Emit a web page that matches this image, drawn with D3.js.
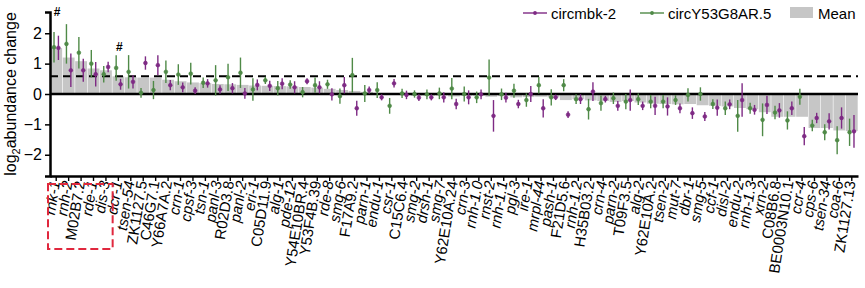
<!DOCTYPE html>
<html>
	<head>
		<meta charset="utf-8">
		<title>log2 abundance change</title>
		<style>
			body { margin: 0; background: #fff; }
			text { font-family: Arial, "Liberation Sans", sans-serif; fill: #000; }
			.bar { fill: #c6c6c6; }
			.err { stroke-width: 1.4px; }
		</style>
	</head>
	<body>
		<svg class="chart"></svg>
		<script src="https://d3js.org/d3.v7.min.js"></script>
		<script>
			// categories, sorted by mean
			var genes = ["rnk-1","rnh-2","M02B7.2","rde-1","dis-3","dcr-1","tsen-54","ZK1127.5","C46G7.1","Y66A7A.2",
				"crn-1","cpsf-3","tsn-1","panl-3","R02D3.8","panl-2","eri-1","C05D11.9","alg-1","pde-12",
				"Y54E10BR.4","Y53F4B.39","rde-8","smg-6","F17A9.2","parn-1","endu-1","csr-1","C15C6.4","smg-2",
				"drsh-1","smg-7","Y62E10A.24","crn-3","rnh-1.0","rnst-2","rnh-1.1","pgl-3","ire-1","mrpl-44",
				"pash-1","F21D5.6","rnh-1.2","H35B03.2","crn-4","parn-2","T09F3.5","alg-2","Y62E10A.2","tsen-2",
				"mut-7","dbr-1","smg-5","ccf-1","disl-2","endu-2","rnh-1.3","xrn-2","C08B6.8","BE0003N10.1",
				"ccr-4","cps-6","tsen-34","coa-6","ZK1127.13"];

			// circmbk-2
			var mbkValues = [1.52,0.78,0.78,0.65,0.89,0.32,0.40,1.02,0.95,0.29,
				0.22,0.11,0.35,0.15,0.19,0.02,0.30,0.27,0.34,0.22,
				0.42,0.22,-0.01,0.29,-0.47,0.13,-0.11,0.35,-0.03,-0.12,
				-0.11,-0.11,-0.33,-0.11,-0.01,-0.72,-0.12,-0.33,0.00,-0.47,
				-0.11,-0.68,-0.17,0.08,-0.17,-0.39,-0.20,-0.39,-0.39,-0.41,
				-0.47,-0.63,-0.74,-0.45,-0.34,-0.20,-0.52,-0.36,-0.54,-0.47,
				-1.39,-0.79,-0.90,-0.79,-1.23];
			var mbkErrors = [0.40,0.55,0.38,0.40,0.17,0.18,0.22,0.22,0.33,0.17,
				0.16,0.11,0.14,0.14,0.17,0.18,0.18,0.17,0.18,0.20,
				0.10,0.20,0.20,0.27,0.25,0.12,0.10,0.14,0.14,0.11,
				0.10,0.17,0.17,0.23,0.16,0.52,0.16,0.14,0.26,0.30,
				0.09,0.11,0.16,0.31,0.11,0.16,0.35,0.14,0.30,0.30,
				0.16,0.19,0.15,0.27,0.16,0.55,0.16,0.30,0.24,0.22,
				0.30,0.17,0.27,0.35,0.54];

			// circY53G8AR.5
			var y53Values = [1.54,1.65,1.36,1.00,0.65,0.86,0.73,0.04,0.13,0.73,
				0.64,0.67,0.37,0.45,0.55,0.70,0.15,0.45,0.19,0.31,
				0.06,0.29,0.32,-0.07,0.62,0.02,0.13,-0.39,0.02,0.00,
				-0.01,0.02,0.18,0.00,-0.11,0.54,-0.01,0.11,-0.20,0.29,
				-0.11,0.29,-0.17,-0.50,-0.30,-0.14,-0.25,-0.17,-0.25,-0.25,
				-0.20,-0.03,0.00,-0.33,-0.47,-0.72,-0.47,-0.85,-0.61,-0.87,
				-0.09,-1.04,-1.26,-1.52,-1.26];
			var y53Errors = [0.50,0.65,0.52,0.45,0.27,0.42,0.55,0.16,0.30,0.37,
				0.34,0.36,0.17,0.50,0.45,0.50,0.37,0.12,0.24,0.14,
				0.17,0.25,0.15,0.25,0.57,0.28,0.26,0.26,0.15,0.12,
				0.16,0.19,0.35,0.25,0.19,0.60,0.19,0.23,0.22,0.27,
				0.27,0.20,0.16,0.34,0.25,0.19,0.25,0.19,0.22,0.22,
				0.16,0.22,0.22,0.16,0.22,0.52,0.18,0.54,0.22,0.30,
				0.26,0.19,0.26,0.46,0.45];

			// Mean bars
			var meanValues = [1.51,1.20,1.08,0.84,0.78,0.58,0.55,0.54,0.54,0.47,
				0.42,0.38,0.36,0.33,0.32,0.30,0.28,0.27,0.26,0.25,
				0.23,0.21,0.17,0.13,0.10,0.07,0.02,-0.02,-0.01,-0.06,
				-0.06,-0.05,-0.08,-0.06,-0.06,-0.09,-0.07,-0.11,-0.10,-0.09,
				-0.11,-0.20,-0.17,-0.21,-0.23,-0.26,-0.23,-0.28,-0.32,-0.33,
				-0.34,-0.33,-0.37,-0.39,-0.41,-0.46,-0.50,-0.60,-0.75,-0.75,
				-0.75,-1.12,-1.12,-1.20,-1.22];

			var yTicks = [-2, -1, 0, 1, 2];
			var threshold = 0.585;               // log2(1.5)
			var hashGenes = ["rnk-1", "dcr-1"];
			var hashLevels = [2.69, 1.54];
			var boxedGenes = ["rnk-1", "dis-3"];  // first and last inside the red box

			var seriesNames = ["circmbk-2", "circY53G8AR.5", "Mean"];
			var colors = {mbk: "#7e2a84", y53: "#4f8a47"};

			var width = 865, height = 288;
			var svg = d3.select(".chart")
				.attr("width", width)
				.attr("height", height);

			var x = d3.scaleBand()
				.domain(genes)
				.range([50, 858])
				.padding(0);
			var y = d3.scaleLinear()
				.domain([-2.7, 2.7])
				.range([176, 12]);

			var bw = x.bandwidth();

			// Mean bars
			svg.append("g")
				.selectAll("rect")
				.data(genes)
				.enter()
				.append("rect")
					.attr("class", "bar")
					.attr("x", function(d) {return x(d) + 0.3;})
					.attr("width", bw - 0.6)
					.attr("y", function(d, i) {return Math.min(y(meanValues[i]), y(0));})
					.attr("height", function(d, i) {return Math.abs(y(meanValues[i]) - y(0));});

			// dashed 1.5 fold line
			svg.append("line")
				.attr("x1", 50).attr("x2", 858)
				.attr("y1", y(threshold)).attr("y2", y(threshold))
				.attr("stroke", "#000")
				.attr("stroke-width", 2)
				.attr("stroke-dasharray", "8,5");

			// zero line
			svg.append("line")
				.attr("x1", 50).attr("x2", 858)
				.attr("y1", y(0)).attr("y2", y(0))
				.attr("stroke", "#000")
				.attr("stroke-width", 2.5);

			// points with error bars
			function drawSeries(vals, errs, color, offset) {
				var g = svg.append("g");
				g.selectAll("line")
					.data(genes)
					.enter()
					.append("line")
						.attr("class", "err")
						.attr("stroke", color)
						.attr("x1", function(d) {return x(d) + bw / 2 + offset;})
						.attr("x2", function(d) {return x(d) + bw / 2 + offset;})
						.attr("y1", function(d, i) {return y(vals[i] + errs[i]);})
						.attr("y2", function(d, i) {return y(vals[i] - errs[i]);});
				g.selectAll("circle")
					.data(genes)
					.enter()
					.append("circle")
						.attr("cx", function(d) {return x(d) + bw / 2 + offset;})
						.attr("cy", function(d, i) {return y(vals[i]);})
						.attr("r", 1.9)
						.attr("fill", color)
						.attr("stroke", color)
						.attr("stroke-width", 0.6);
			}
			drawSeries(y53Values, y53Errors, colors.y53, -2.2);
			drawSeries(mbkValues, mbkErrors, colors.mbk, 2.2);

			// # marks
			svg.append("g")
				.selectAll("text")
				.data(hashGenes)
				.enter()
				.append("text")
					.attr("x", function(d) {return x(d) + bw / 2 + 1;})
					.attr("y", function(d, i) {return y(hashLevels[i]) + 4;})
					.attr("text-anchor", "middle")
					.attr("font-size", 12)
					.attr("font-weight", "bold")
					.text("#");

			// y axis
			var yAxis = svg.append("g")
				.attr("transform", "translate(50,0)")
				.call(d3.axisLeft(y).tickValues(yTicks).tickSize(5).tickPadding(3)
					.tickFormat(function(d) {return d < 0 ? "\u2212" + Math.abs(d) : d;}));
			yAxis.select(".domain").attr("stroke-width", 2.5);
			yAxis.selectAll(".tick line").attr("stroke-width", 1.5);
			yAxis.selectAll(".tick text").attr("font-size", 16).attr("font-family", "Arial, 'Liberation Sans', sans-serif");

			// x axis
			var xAxis = svg.append("g")
				.attr("transform", "translate(0,176)")
				.call(d3.axisBottom(x).tickSize(5).tickSizeOuter(0));
			xAxis.select(".domain").attr("stroke-width", 2.5);
			xAxis.selectAll(".tick line").attr("stroke-width", 1.4);
			xAxis.selectAll(".tick text")
				.attr("font-size", 15)
				.attr("font-family", "Arial, 'Liberation Sans', sans-serif")
				.attr("font-style", function(d) {return /^[a-z]/.test(d) ? "italic" : "normal";})
				.attr("text-anchor", "end")
				.attr("dy", "0.35em")
				.attr("transform", "translate(-1,3) rotate(-81)")
				.attr("y", 0)
				.attr("x", -2);

			// red dashed box round the first labels
			var bx0 = x(boxedGenes[0]) - 2, bx1 = x(boxedGenes[1]) + bw + 0.5;
			svg.append("rect")
				.attr("x", bx0).attr("y", 184)
				.attr("width", bx1 - bx0).attr("height", 65)
				.attr("fill", "none")
				.attr("stroke", "#e0283e")
				.attr("stroke-width", 2)
				.attr("stroke-dasharray", "8,4");

			// y title
			var yt = svg.append("text")
				.attr("transform", "translate(16,94) rotate(-90)")
				.attr("text-anchor", "middle")
				.attr("font-size", 16);
			yt.append("tspan").text("log");
			yt.append("tspan").attr("font-size", 11).attr("dy", 4).text("2");
			yt.append("tspan").attr("dy", -4).text("abundance change");

			// legend
			var legend = svg.append("g").attr("font-size", 15);
			[[523, colors.mbk, seriesNames[0]], [640, colors.y53, seriesNames[1]]].forEach(function(it) {
				legend.append("line")
					.attr("x1", it[0]).attr("x2", it[0] + 24)
					.attr("y1", 13).attr("y2", 13)
					.attr("stroke", it[1]).attr("stroke-width", 1.4);
				legend.append("circle")
					.attr("cx", it[0] + 12).attr("cy", 13).attr("r", 1.9)
					.attr("fill", it[1]);
				legend.append("text")
					.attr("x", it[0] + 28).attr("y", 18.5)
					.text(it[2]);
			});
			legend.append("rect")
				.attr("x", 790).attr("y", 7)
				.attr("width", 23).attr("height", 11)
				.attr("class", "bar");
			legend.append("text")
				.attr("x", 818).attr("y", 18.5)
				.text(seriesNames[2]);
		</script>
	</body>
</html>
